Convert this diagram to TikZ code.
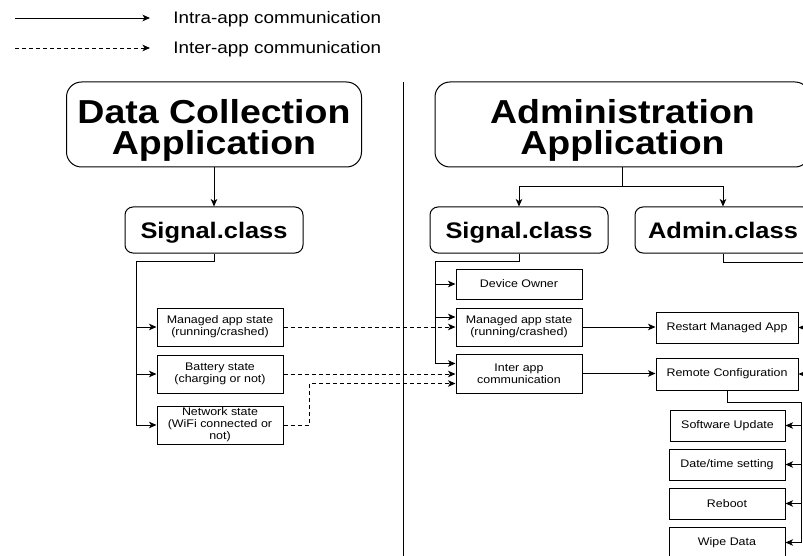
\documentclass[tikz,border=0pt]{standalone}
\usepackage{fontspec}
\setmainfont[FakeStretch=1.13]{Liberation Sans}
\usetikzlibrary{arrows.meta}
\begin{document}
\begin{tikzpicture}[x=1pt,y=-1pt,
  line width=0.9pt,
  arr/.style={-{Stealth[length=7.5pt,width=6.5pt,inset=2pt]}},
  dasharr/.style={arr,dash pattern=on 4pt off 3pt},
  titlebox/.style={draw,rounded corners=15pt,line width=1pt,inner sep=0pt},
  titletext/.style={inner sep=0pt,align=center,text depth=0pt,font=\bfseries\fontsize{33.2}{31}\selectfont},
  clsbox/.style={draw,rounded corners=8pt,line width=1pt,align=center,inner sep=0pt,
    text depth=0pt,minimum height=46pt,font=\bfseries\fontsize{22.5}{24}\selectfont},
  itembox/.style={draw,line width=1pt,align=center,inner sep=0pt,
    font=\fontsize{11}{12}\selectfont},
  legtext/.style={anchor=west,inner sep=0pt,font=\fontsize{16.7}{18}\selectfont}
]
\useasboundingbox (0,0) rectangle (803,556);
\clip (0,0) rectangle (803,556);

% legend
\coordinate (la1) at (15,18);
\coordinate (lb1) at (150,18);
\coordinate (la2) at (15,48);
\coordinate (lb2) at (150,48);
\draw[arr] (la1) -- (lb1);
\draw[dasharr] (la2) -- (lb2);
\node[legtext] (lt1) at (173,19.5) {Intra-app communication};
\node[legtext] (lt2) at (173,49.5) {Inter-app communication};

% divider
\coordinate (dv1) at (403,82);
\coordinate (dv2) at (403,560);
\draw (dv1) -- (dv2);

% left side
\node[titlebox,minimum width=295pt,minimum height=85pt] (dca) at (214,124.5) {};
\node[titletext] (dcat) at (214,126.5) {Data Collection\\Application};
\node[clsbox,minimum width=178pt] (sigL) at (214,230) {Signal.class};
\node[itembox,minimum width=126pt,minimum height=38pt] (mL) at (220,327) {Managed app state\\(running/crashed)};
\node[itembox,minimum width=126pt,minimum height=38pt] (bL) at (220,374) {Battery state\\(charging or not)};
\node[itembox,minimum width=126pt,minimum height=38pt] (nL) at (220,425) {Network state\\(WiFi connected or\\not)};

% right side
\node[titlebox,minimum width=375pt,minimum height=85pt] (aa) at (622.5,124.5) {};
\node[titletext] (aat) at (622.5,126.5) {Administration\\Application};
\node[clsbox,minimum width=178pt] (sigR) at (519,230) {Signal.class};
\node[clsbox,minimum width=176pt] (adm) at (723,230) {Admin.class};
\node[itembox,minimum width=126pt,minimum height=30pt] (dev) at (519,284) {Device Owner};
\node[itembox,minimum width=126pt,minimum height=38pt] (mR) at (519,327) {Managed app state\\(running/crashed)};
\node[itembox,minimum width=126pt,minimum height=39pt] (iR) at (519,373.5) {Inter app\\communication};
\node[itembox,minimum width=142pt,minimum height=31pt] (rst) at (727,327.5) {Restart Managed App};
\node[itembox,minimum width=142pt,minimum height=32pt] (rem) at (727,374) {Remote Configuration};
\node[itembox,minimum width=115pt,minimum height=31pt] (sw) at (727.5,425.5) {Software Update};
\node[itembox,minimum width=116pt,minimum height=31pt] (dt) at (727,464.5) {Date/time setting};
\node[itembox,minimum width=116pt,minimum height=31pt] (rb) at (727,503.5) {Reboot};
\node[itembox,minimum width=116pt,minimum height=31pt] (wd) at (727,542.5) {Wipe Data};

% left connectors
\draw[arr] (dca.south) -- (sigL.north);
\coordinate (busL) at (136,261);
\draw (sigL.south) |- (busL);
\draw[arr] (busL) |- (mL.west);
\draw[arr] (busL) |- (bL.west);
\draw[arr] (busL) |- (nL.west);

% inter-app
\draw[dasharr] (mL.east) -- (mL.east -| mR.west);
\draw[dasharr] (bL.east) -- (bL.east -| iR.west);
\draw[dasharr] (nL.east) -- ++(26,0) |- ([yshift=-10pt]iR.west);

% right connectors
\coordinate (spA) at (622.5,186);
\draw (aa.south) -- (spA);
\draw[arr] (spA) -| (sigR.north);
\draw[arr] (spA) -| (adm.north);
\coordinate (busR) at (435,261);
\draw (sigR.south) |- (busR);
\draw[arr] (busR) |- (dev.west);
\draw[arr] (busR) |- ([yshift=10pt]mR.west);
\draw[arr] (busR) |- ([yshift=10pt]iR.west);
\draw[arr] (mR.east) -- (mR.east -| rst.west);
\draw[arr] (iR.east) -- (iR.east -| rem.west);
\coordinate (busA) at (815,262);
\draw (adm.south) |- (busA);
\draw[arr] (busA) |- (rst.east);
\draw[arr] (busA) |- (rem.east);
\coordinate (busC) at (801,402);
\draw (rem.south) |- (busC);
\draw[arr] (busC) |- (sw.east);
\draw[arr] (busC) |- (dt.east);
\draw[arr] (busC) |- (rb.east);
\draw[arr] (busC) |- (wd.east);
\end{tikzpicture}
\end{document}
